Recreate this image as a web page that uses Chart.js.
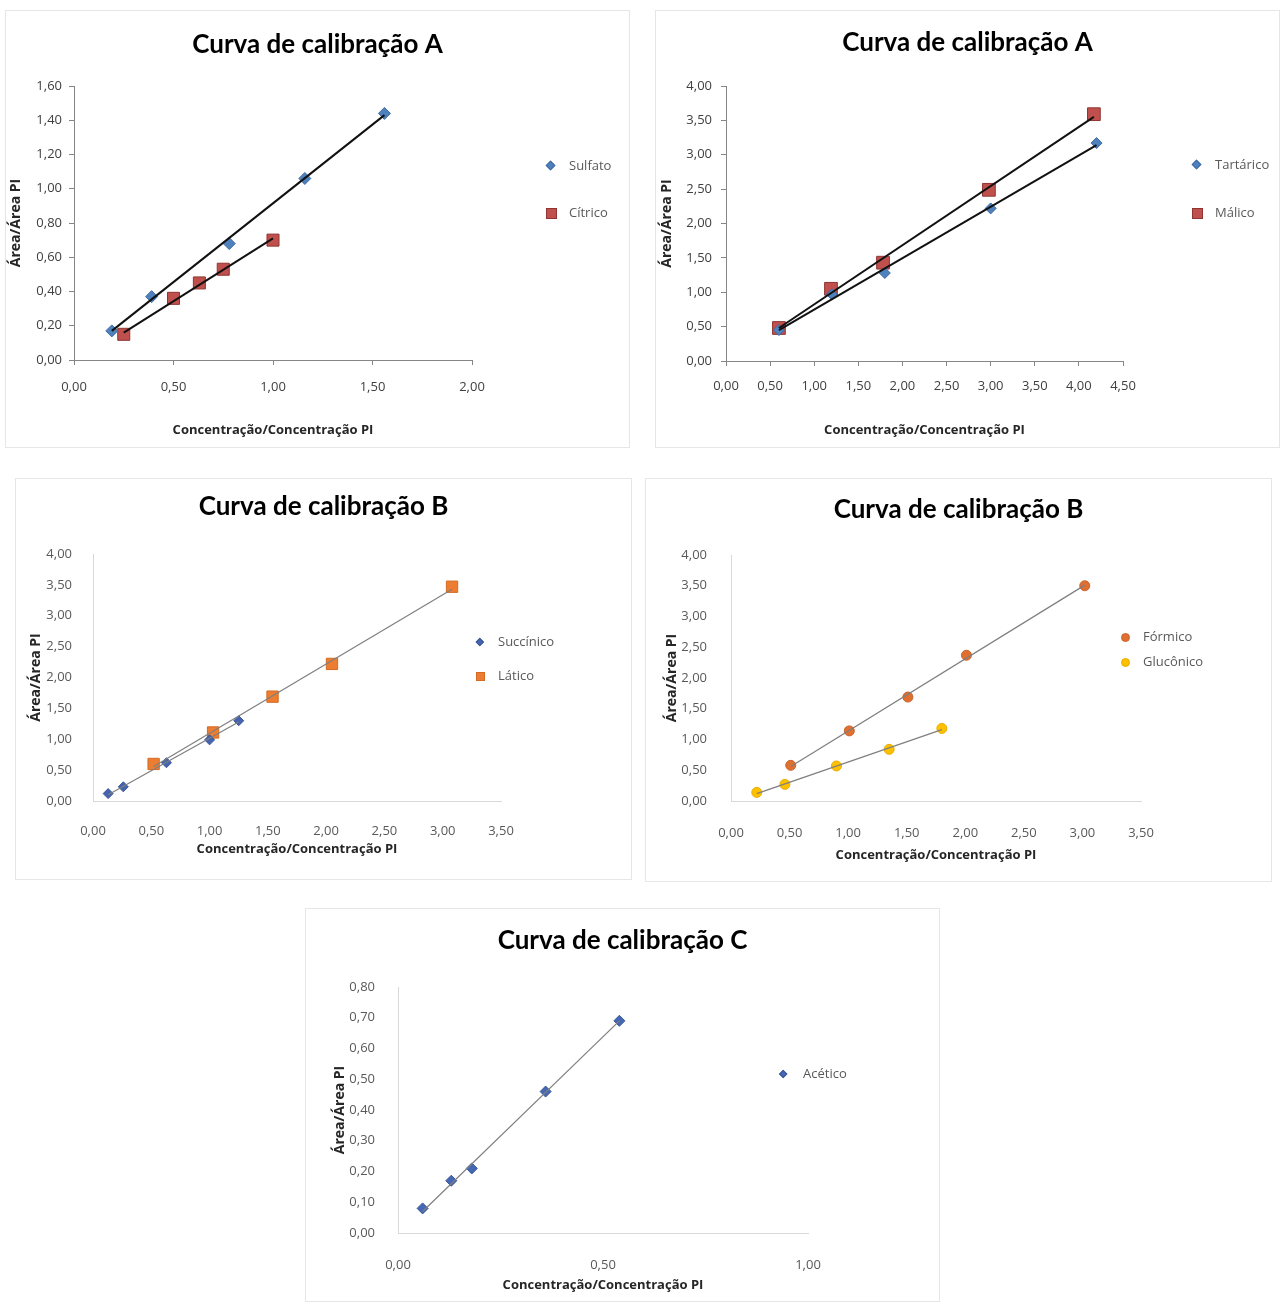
<!DOCTYPE html>
<html>
<head>
<meta charset="utf-8">
<script src="https://cdn.jsdelivr.net/npm/chart.js@4.4.1/dist/chart.umd.min.js"></script>
<style>
body { margin: 0; background: #fff; width: 1282px; height: 1305px; position: relative; overflow: hidden; }
.panel { position: absolute; background: #fff; box-shadow: inset 0 0 0 1px #e6e6e6; }
.panel canvas { position: absolute; left: 0; top: 0; }
.leg { position: absolute; font: 13px 'Open Sans', sans-serif; color: #595959; white-space: nowrap; line-height: 18px; }
.mk { position: absolute; box-sizing: border-box; }
</style>
</head>
<body>
<script>
// Curva de calibração A (esquerda)
const sulfatoX = [0.19, 0.39, 0.78, 1.16, 1.56];
const sulfatoY = [0.17, 0.37, 0.68, 1.06, 1.44];
const citricoX = [0.25, 0.50, 0.63, 0.75, 1.00];
const citricoY = [0.15, 0.36, 0.45, 0.53, 0.70];
const sulfatoTrendX = [0.19, 1.56];
const sulfatoTrendY = [0.17, 1.43];
const citricoTrendX = [0.25, 1.00];
const citricoTrendY = [0.16, 0.71];

// Curva de calibração A (direita)
const tartaricoX = [0.60, 1.20, 1.80, 3.00, 4.20];
const tartaricoY = [0.45, 0.97, 1.28, 2.22, 3.17];
const malicoX = [0.60, 1.19, 1.78, 2.98, 4.17];
const malicoY = [0.48, 1.05, 1.43, 2.49, 3.59];
const tartaricoTrendX = [0.60, 4.20];
const tartaricoTrendY = [0.45, 3.14];
const malicoTrendX = [0.60, 4.17];
const malicoTrendY = [0.48, 3.55];

// Curva de calibração B (esquerda)
const succinicoX = [0.13, 0.26, 0.63, 1.00, 1.25];
const succinicoY = [0.12, 0.23, 0.62, 0.99, 1.30];
const laticoX = [0.52, 1.03, 1.54, 2.05, 3.08];
const laticoY = [0.60, 1.11, 1.69, 2.22, 3.47];
const succinicoTrendX = [0.13, 1.25];
const succinicoTrendY = [0.10, 1.28];
const laticoTrendX = [0.52, 3.08];
const laticoTrendY = [0.56, 3.43];

// Curva de calibração B (direita)
const formicoX = [0.51, 1.01, 1.51, 2.01, 3.02];
const formicoY = [0.58, 1.14, 1.69, 2.37, 3.50];
const gluconicoX = [0.22, 0.46, 0.90, 1.35, 1.80];
const gluconicoY = [0.14, 0.27, 0.57, 0.84, 1.18];
const formicoTrendX = [0.51, 3.02];
const formicoTrendY = [0.56, 3.51];
const gluconicoTrendX = [0.22, 1.80];
const gluconicoTrendY = [0.12, 1.16];

// Curva de calibração C
const aceticoX = [0.06, 0.13, 0.18, 0.36, 0.54];
const aceticoY = [0.08, 0.17, 0.21, 0.46, 0.69];
const aceticoTrendX = [0.06, 0.54];
const aceticoTrendY = [0.07, 0.69];

const xTitle = 'Concentração/Concentração PI';
const yTitle = 'Área/Área PI';

const smallFont = "'Open Sans', sans-serif";
const titleFont = "Lato, 'Open Sans', sans-serif";

const fmt = v => v.toFixed(2).replace('.', ',');
const pts = (xs, ys) => xs.map((x, i) => ({x: x, y: ys[i]}));

function makeChart(c) {
    const [L, T, W, H] = c.box;
    const p = c.plot; // left, top, right, bottom inside the panel
    const div = document.createElement('div');
    div.className = 'panel';
    div.style.left = L + 'px';
    div.style.top = T + 'px';
    div.style.width = W + 'px';
    div.style.height = H + 'px';
    document.body.appendChild(div);
    const cv = document.createElement('canvas');
    cv.width = W;
    cv.height = H;
    cv.style.width = W + 'px';
    cv.style.height = H + 'px';
    div.appendChild(cv);

    const datasets = [];
    c.series.forEach(s => {
        datasets.push({
            label: s.label,
            data: pts(s.xs, s.ys),
            showLine: false,
            pointStyle: s.style,
            pointRadius: s.r,
            pointBackgroundColor: s.color,
            pointBorderColor: s.edge,
            pointBorderWidth: 1,
            order: 1
        });
        datasets.push({
            label: s.label + ' (linear)',
            data: pts(s.tx, s.ty),
            showLine: true,
            pointRadius: 0,
            borderColor: c.lineColor,
            borderWidth: c.lineWidth,
            order: 0
        });
    });

    // old Excel look (A) has tick marks, newer (B, C) only light axis lines
    const axisStyle = c.old ? {
        grid: {display: true, drawOnChartArea: false, drawTicks: true, tickLength: 5, color: '#868686'},
        border: {display: true, color: '#868686', width: 1}
    } : {
        grid: {display: false},
        border: {display: true, color: '#d9d9d9', width: 1}
    };
    const tl = c.old ? 5 : 0;

    new Chart(cv.getContext('2d'), {
        type: 'scatter',
        data: {datasets: datasets},
        options: {
            responsive: false,
            animation: false,
            layout: {padding: 0},
            plugins: {
                legend: {display: false},
                tooltip: {enabled: false},
                title: {
                    display: true,
                    text: c.title,
                    color: '#000',
                    font: {family: titleFont, size: 26, weight: 'bold', lineHeight: 1.2},
                    padding: {top: c.titleY - 15.6, bottom: p[1] - c.titleY - 15.6}
                }
            },
            scales: {
                x: {
                    type: 'linear', min: 0, max: c.xMax,
                    ticks: {
                        stepSize: c.xStep, callback: fmt, autoSkip: false, maxRotation: 0,
                        font: {family: smallFont, size: 13}, color: c.tickColor,
                        padding: c.xLabelGap - tl - 7.8
                    },
                    grid: axisStyle.grid,
                    border: axisStyle.border,
                    title: {
                        display: true, text: xTitle, color: '#262626',
                        font: {family: smallFont, size: 13, weight: 'bold'},
                        padding: {top: 0, bottom: H - c.xTitleY - 7.8}
                    },
                    afterFit: s => { s.height = H - p[3]; }
                },
                y: {
                    type: 'linear', min: 0, max: c.yMax,
                    ticks: {
                        stepSize: c.yStep, callback: fmt,
                        font: {family: smallFont, size: 13}, color: c.tickColor,
                        padding: c.yLabelGap - tl
                    },
                    grid: axisStyle.grid,
                    border: axisStyle.border,
                    title: {
                        display: true, text: yTitle, color: '#262626',
                        font: {family: smallFont, size: 14, weight: 'bold'},
                        padding: {top: c.yTitleX - 8.4, bottom: 0}
                    },
                    afterFit: s => { s.width = p[0]; }
                },
                // empty box on the right that keeps room for the legend
                yr: {
                    type: 'linear', position: 'right', display: true,
                    grid: {display: false}, border: {display: false}, ticks: {display: false},
                    afterFit: s => { s.width = W - p[2]; }
                }
            }
        }
    });

    // legend as html, placed like the excel one
    c.series.forEach((s, i) => {
        const [cx, cy] = c.leg[i];
        const m = document.createElement('div');
        m.className = 'mk';
        let d = s.legSize;
        if (s.style === 'rectRot') {
            d = s.legSize / 1.414;
            m.style.transform = 'rotate(45deg)';
        }
        if (s.style === 'circle') m.style.borderRadius = '50%';
        m.style.width = d + 'px';
        m.style.height = d + 'px';
        m.style.left = (cx - d / 2) + 'px';
        m.style.top = (cy - d / 2) + 'px';
        m.style.background = s.color;
        m.style.border = '1px solid ' + s.edge;
        div.appendChild(m);
        const t = document.createElement('div');
        t.className = 'leg';
        t.textContent = s.label;
        t.style.left = (cx + c.legGap) + 'px';
        t.style.top = (cy - 10) + 'px';
        div.appendChild(t);
    });
}

makeChart({
    box: [5, 10, 625, 438], plot: [69, 76, 467, 350],
    title: 'Curva de calibração A', titleY: 35,
    xMax: 2, xStep: 0.5, yMax: 1.6, yStep: 0.2,
    old: true, tickColor: '#404040', lineColor: '#111', lineWidth: 2,
    xLabelGap: 27, yLabelGap: 12, xTitleY: 420, yTitleX: 11,
    leg: [[546, 156], [546, 203]], legGap: 18,
    series: [
        {label: 'Sulfato', xs: sulfatoX, ys: sulfatoY, tx: sulfatoTrendX, ty: sulfatoTrendY,
         style: 'rectRot', r: 6, color: '#4F81BD', edge: '#3d6aa3', legSize: 10},
        {label: 'Cítrico', xs: citricoX, ys: citricoY, tx: citricoTrendX, ty: citricoTrendY,
         style: 'rect', r: 8.5, color: '#C0504D', edge: '#8f3431', legSize: 11}
    ]
});

makeChart({
    box: [655, 10, 625, 438], plot: [71, 76, 468, 351],
    title: 'Curva de calibração A', titleY: 33,
    xMax: 4.5, xStep: 0.5, yMax: 4, yStep: 0.5,
    old: true, tickColor: '#404040', lineColor: '#111', lineWidth: 2,
    xLabelGap: 25, yLabelGap: 14, xTitleY: 420, yTitleX: 12,
    leg: [[542, 155], [542, 203]], legGap: 18,
    series: [
        {label: 'Tartárico', xs: tartaricoX, ys: tartaricoY, tx: tartaricoTrendX, ty: tartaricoTrendY,
         style: 'rectRot', r: 5.5, color: '#4F81BD', edge: '#3d6aa3', legSize: 10},
        {label: 'Málico', xs: malicoX, ys: malicoY, tx: malicoTrendX, ty: malicoTrendY,
         style: 'rect', r: 9, color: '#C0504D', edge: '#8f3431', legSize: 11}
    ]
});

makeChart({
    box: [15, 478, 617, 402], plot: [78, 76, 486, 323],
    title: 'Curva de calibração B', titleY: 29,
    xMax: 3.5, xStep: 0.5, yMax: 4, yStep: 0.5,
    old: false, tickColor: '#595959', lineColor: '#7f7f7f', lineWidth: 1.2,
    xLabelGap: 22, yLabelGap: 13, xTitleY: 371, yTitleX: 21,
    leg: [[465, 164], [465, 198]], legGap: 18,
    series: [
        {label: 'Succínico', xs: succinicoX, ys: succinicoY, tx: succinicoTrendX, ty: succinicoTrendY,
         style: 'rectRot', r: 5, color: '#4464B0', edge: '#3a5598', legSize: 8},
        {label: 'Lático', xs: laticoX, ys: laticoY, tx: laticoTrendX, ty: laticoTrendY,
         style: 'rect', r: 8, color: '#ED7D31', edge: '#d46a24', legSize: 9}
    ]
});

makeChart({
    box: [645, 478, 627, 404], plot: [86, 77, 496, 323],
    title: 'Curva de calibração B', titleY: 32,
    xMax: 3.5, xStep: 0.5, yMax: 4, yStep: 0.5,
    old: false, tickColor: '#595959', lineColor: '#7f7f7f', lineWidth: 1.2,
    xLabelGap: 24, yLabelGap: 16, xTitleY: 377, yTitleX: 27,
    leg: [[480, 159], [480, 184]], legGap: 18,
    series: [
        {label: 'Fórmico', xs: formicoX, ys: formicoY, tx: formicoTrendX, ty: formicoTrendY,
         style: 'circle', r: 5, color: '#E07030', edge: '#c9612a', legSize: 9},
        {label: 'Glucônico', xs: gluconicoX, ys: gluconicoY, tx: gluconicoTrendX, ty: gluconicoTrendY,
         style: 'circle', r: 5, color: '#FFC000', edge: '#e6ad00', legSize: 9}
    ]
});

makeChart({
    box: [305, 908, 635, 394], plot: [93, 79, 503, 325],
    title: 'Curva de calibração C', titleY: 33,
    xMax: 1, xStep: 0.5, yMax: 0.8, yStep: 0.1,
    old: false, tickColor: '#595959', lineColor: '#7f7f7f', lineWidth: 1.2,
    xLabelGap: 24, yLabelGap: 15, xTitleY: 377, yTitleX: 35,
    leg: [[478, 166]], legGap: 20,
    series: [
        {label: 'Acético', xs: aceticoX, ys: aceticoY, tx: aceticoTrendX, ty: aceticoTrendY,
         style: 'rectRot', r: 5.5, color: '#4468B4', edge: '#3a5598', legSize: 9}
    ]
});
</script>
</body>
</html>
